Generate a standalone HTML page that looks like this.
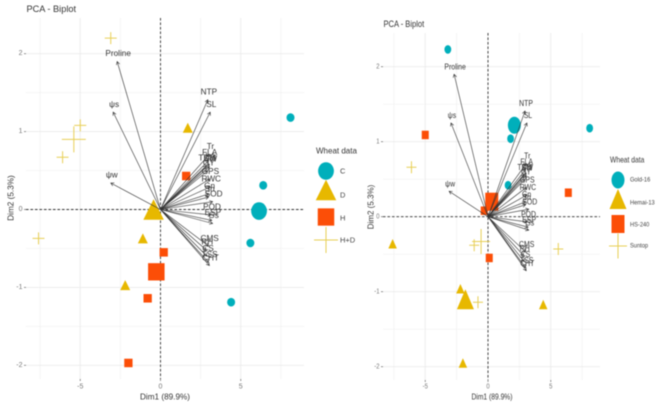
<!DOCTYPE html>
<html>
<head>
<meta charset="utf-8">
<style>
html,body{margin:0;padding:0;background:#fff;width:660px;height:407px;overflow:hidden}
svg{display:block;filter:blur(0.45px)}
text{font-family:"Liberation Sans",sans-serif}
</style>
</head>
<body>
<svg id="chart" xmlns="http://www.w3.org/2000/svg" width="660" height="407" viewBox="0 0 660 407"></svg>
<script>
// Shared variable loadings (Dim1, Dim2)
const varNames = ["Proline","ψs","ψw","NTP","SL","Tr","FLA","LA","TDM","SW","GY","GPS","RWC","Gn","Sn","SOD","POD","ESP","Gs","CMS","RH","CS","TSS","CHT"];
const varDim1 = [-2.7,-2.95,-3.1,2.95,3.1,3.05,3.0,3.05,2.85,3.05,2.95,3.05,3.1,3.0,3.0,3.25,3.15,3.2,3.25,3.0,2.85,2.9,3.0,3.05];
const varDim2 = [1.9,1.25,0.34,1.41,1.25,0.71,0.63,0.58,0.56,0.55,0.5,0.39,0.29,0.2,0.16,0.1,-0.07,-0.14,-0.18,-0.47,-0.52,-0.6,-0.68,-0.72];

const xTicks = [-5,0,5];
const yTicks = [2,1,0,-1,-2];
const xMinorGrid = [-7.5,-2.5,2.5,7.5];
const yMinorGrid = [1.5,0.5,-0.5,-1.5];

// Left panel scores: first point of each series is the large group mean
const leftCX = [6.14,8.1,6.4,5.6,4.4];
const leftCY = [-0.02,1.18,0.31,-0.43,-1.19];
const leftDX = [-0.43,1.7,-1.1,-2.2];
const leftDY = [0.0,1.05,-0.37,-0.97];
const leftHX = [-0.26,1.6,0.2,-0.8,-2.0];
const leftHY = [-0.8,0.43,-0.55,-1.14,-1.97];
const leftHDX = [-5.4,-3.1,-5.0,-6.1,-7.6];
const leftHDY = [0.9,2.2,1.08,0.67,-0.37];
const leftLegendLabels = ["C","D","H","H+D"];

// Right panel scores: first point of each series is the large group mean
const rightGoldX = [2.1,-3.2,1.8,1.6,8.1];
const rightGoldY = [1.22,2.23,1.04,0.42,1.18];
const rightHemaiX = [-1.8,-7.6,-2.2,4.4,-2.0];
const rightHemaiY = [-1.1,-0.36,-0.96,-1.17,-1.95];
const rightHSX = [0.3,-5.0,6.4,-0.3,0.1];
const rightHSY = [0.2,1.09,0.32,0.08,-0.55];
const rightSunX = [-0.55,-1.1,-0.8,5.6,-6.1];
const rightSunY = [-0.33,-0.38,-1.14,-0.43,0.66];
const rightLegendLabels = ["Gold-16","Hemai-13","HS-240","Suntop"];

const svg = document.getElementById('chart');
const NS = 'http://www.w3.org/2000/svg';
const TEAL = '#00AFBB', YELLOW = '#E7B800', ORANGE = '#FC4E07';
let textSqueeze = 1;

function mk(tag, attrs, parent) {
  const el = document.createElementNS(NS, tag);
  for (const k in attrs) el.setAttribute(k, attrs[k]);
  (parent || svg).appendChild(el);
  return el;
}
function txt(str, x, y, size, fill, anchor, parent) {
  const t = mk('text', {x:0, y:0, 'font-size':size, fill:fill, 'text-anchor':anchor || 'middle', 'dominant-baseline':'central',
    transform:'translate(' + x + ',' + y + ') scale(' + textSqueeze + ',1)'}, parent);
  t.textContent = str;
  return t;
}
function circle(g, cx, cy, rx, ry) {
  return mk('ellipse', {cx:cx, cy:cy, rx:rx, ry:ry, fill:TEAL}, g);
}
function triangle(g, cx, cy, w, h) {
  return mk('polygon', {points:(cx-w/2)+','+(cy+h/2)+' '+(cx+w/2)+','+(cy+h/2)+' '+cx+','+(cy-h/2), fill:YELLOW}, g);
}
function square(g, cx, cy, w, h) {
  return mk('rect', {x:cx-w/2, y:cy-h/2, width:w, height:h, fill:ORANGE}, g);
}
function plus(g, cx, cy, w, h) {
  return mk('path', {d:'M'+(cx-w/2)+' '+cy+'H'+(cx+w/2)+'M'+cx+' '+(cy-h/2)+'V'+(cy+h/2), stroke:'#E8CF55', 'stroke-width':1, fill:'none'}, g);
}

function drawPanel(cfg) {
  textSqueeze = cfg.squeeze;
  const sx = v => cfg.x0 + v * cfg.kx;
  const sy = v => cfg.y0 - v * cfg.ky;
  const root = mk('g', {});
  
  

  const title = txt('PCA - Biplot', cfg.left + 0.5, cfg.titleY, cfg.titleSize, '#333', 'start', root);
  
  

  const grid = mk('g', {}, root);
  
  
  xMinorGrid.forEach(v => mk('line', {x1:sx(v), x2:sx(v), y1:cfg.top, y2:cfg.bottom, stroke:'#f1f1f1', 'stroke-width':0.7}, grid));
  yMinorGrid.forEach(v => mk('line', {x1:cfg.left, x2:cfg.right, y1:sy(v), y2:sy(v), stroke:'#f1f1f1', 'stroke-width':0.7}, grid));
  xTicks.forEach(v => mk('line', {x1:sx(v), x2:sx(v), y1:cfg.top, y2:cfg.bottom, stroke:'#ebebeb', 'stroke-width':0.9}, grid));
  yTicks.forEach(v => mk('line', {x1:cfg.left, x2:cfg.right, y1:sy(v), y2:sy(v), stroke:'#ebebeb', 'stroke-width':0.9}, grid));

  const ticks = mk('g', {}, root);
  
  
  xTicks.forEach(v => {
    mk('line', {x1:sx(v), x2:sx(v), y1:cfg.bottom, y2:cfg.bottom+2, stroke:'#666', 'stroke-width':0.7}, ticks);
    txt(String(v), sx(v), 387, 7, '#777', 'middle', ticks);
  });
  yTicks.forEach(v => {
    mk('line', {x1:cfg.left-2, x2:cfg.left, y1:sy(v), y2:sy(v), stroke:'#666', 'stroke-width':0.7}, ticks);
    txt(String(v), cfg.left-3.5, sy(v), 7, '#777', 'end', ticks);
  });

  const xt = txt('Dim1 (89.9%)', cfg.xTitleX, 397, cfg.axisSize, '#333', 'middle', root);
  
  
  textSqueeze = 1;
  const yt = txt('Dim2 (5.3%)', 0, 0, cfg.axisSize, '#333', 'middle', root);
  yt.setAttribute('transform', 'translate(' + cfg.yTitleX + ',' + cfg.yTitleY + ') rotate(-90)');
  
  
  textSqueeze = cfg.squeeze;

  mk('line', {x1:cfg.left, x2:cfg.right, y1:sy(0), y2:sy(0), stroke:'#333', 'stroke-width':0.9, 'stroke-dasharray':'2.5 2'}, root);
  mk('line', {x1:sx(0), x2:sx(0), y1:cfg.top, y2:cfg.bottom, stroke:'#333', 'stroke-width':0.9, 'stroke-dasharray':'2.5 2'}, root);

  // Points
  const pts = mk('g', {}, root);
  
  
  cfg.s1x.forEach((v, i) => {
    const s = i === 0 ? cfg.bigCircle : cfg.smallCircle;
    const m = circle(pts, sx(v), sy(cfg.s1y[i]), s[0], s[1]);
    
    
  });
  cfg.s2x.forEach((v, i) => {
    const s = i === 0 ? cfg.bigTri : cfg.smallTri;
    const m = triangle(pts, sx(v), sy(cfg.s2y[i]), s[0], s[1]);
    
    
  });
  cfg.s3x.forEach((v, i) => {
    const s = i === 0 ? cfg.bigSq : cfg.smallSq;
    const m = square(pts, sx(v), sy(cfg.s3y[i]), s[0], s[1]);
    
    
  });
  cfg.s4x.forEach((v, i) => {
    const s = i === 0 ? cfg.bigPlus : cfg.smallPlus;
    const m = plus(pts, sx(v), sy(cfg.s4y[i]), s[0], s[1]);
    
    
  });

  // Loading arrows
  const arrows = mk('g', {}, root);
  
  
  varNames.forEach((n, i) => {
    const x2 = sx(varDim1[i]), y2 = sy(varDim2[i]);
    const x1 = sx(0), y1 = sy(0);
    const ang = Math.atan2(y2 - y1, x2 - x1);
    const L = 3.6, A = 0.5;
    const d = 'M' + x1 + ' ' + y1 + 'L' + x2 + ' ' + y2 +
      'M' + (x2 - L*Math.cos(ang-A)) + ' ' + (y2 - L*Math.sin(ang-A)) + 'L' + x2 + ' ' + y2 +
      'L' + (x2 - L*Math.cos(ang+A)) + ' ' + (y2 - L*Math.sin(ang+A));
    const a = mk('path', {d:d, stroke:'#333', 'stroke-width':0.6, fill:'none'}, arrows);
    
    
  });
  varNames.forEach((n, i) => {
    const l = txt(n, sx(varDim1[i]) + 1, sy(varDim2[i] + 0.1), cfg.varSize, '#333', 'middle', arrows);
    
    
  });

  // Legend
  const leg = mk('g', {}, root);
  
  
  const lt = txt('Wheat data', cfg.legTitleX, cfg.legTitleY, cfg.legTitleSize, '#333', 'start', leg);
  
  
  const lx = cfg.legX;
  circle(leg, lx, cfg.legY[0], cfg.bigCircle[0], cfg.bigCircle[1]);
  triangle(leg, lx, cfg.legY[1], cfg.bigTri[0], cfg.bigTri[1]);
  square(leg, lx, cfg.legY[2], cfg.bigSq[0], cfg.bigSq[1]);
  plus(leg, lx, cfg.legY[3], cfg.bigPlus[0], cfg.bigPlus[1]);
  cfg.legLabels.forEach((s, i) => {
    const e = txt(s, cfg.legTextX, cfg.legTextY[i], cfg.legSize, '#444', 'start', leg);
    
    
  });
}

drawPanel({
  name:'left-biplot', x0:160.5, y0:209.5, kx:16.05, ky:77.9, squeeze:1,
  left:26, right:304, top:18, bottom:379, titleY:9, titleSize:9.2,
  xTitleX:165, yTitleX:11, yTitleY:198, axisSize:8.2, varSize:8.2,
  bigCircle:[7.9,8.8], smallCircle:[4,4.3], bigTri:[20.5,20.5], smallTri:[10,10], bigSq:[16.5,17.3], smallSq:[8.3,8.5], bigPlus:[24,26], smallPlus:[12,12],
  s1x:leftCX, s1y:leftCY, s2x:leftDX, s2y:leftDY, s3x:leftHX, s3y:leftHY, s4x:leftHDX, s4y:leftHDY,
  legTitleX:316, legTitleY:151, legTitleSize:8, legX:326, legY:[171,190,217,240], legTextX:340, legTextY:[171,195,218,240], legSize:7.5,
  legLabels:leftLegendLabels
});
drawPanel({
  name:'right-biplot', x0:488, y0:216.7, kx:12.55, ky:75, squeeze:0.84,
  left:383, right:600, top:33, bottom:380, titleY:24, titleSize:9,
  xTitleX:492, yTitleX:371, yTitleY:207, axisSize:8, varSize:8.2,
  bigCircle:[6.5,8.5], smallCircle:[3.4,4.3], bigTri:[17,20], smallTri:[8.5,9.5], bigSq:[13,18], smallSq:[7,8.5], bigPlus:[18,25], smallPlus:[10,12],
  s1x:rightGoldX, s1y:rightGoldY, s2x:rightHemaiX, s2y:rightHemaiY, s3x:rightHSX, s3y:rightHSY, s4x:rightSunX, s4y:rightSunY,
  legTitleX:610, legTitleY:160, legTitleSize:8, legX:618, legY:[180,199,224,246], legTextX:630, legTextY:[180,203,225,246], legSize:6.8,
  legLabels:rightLegendLabels
});
</script>
</body>
</html>
